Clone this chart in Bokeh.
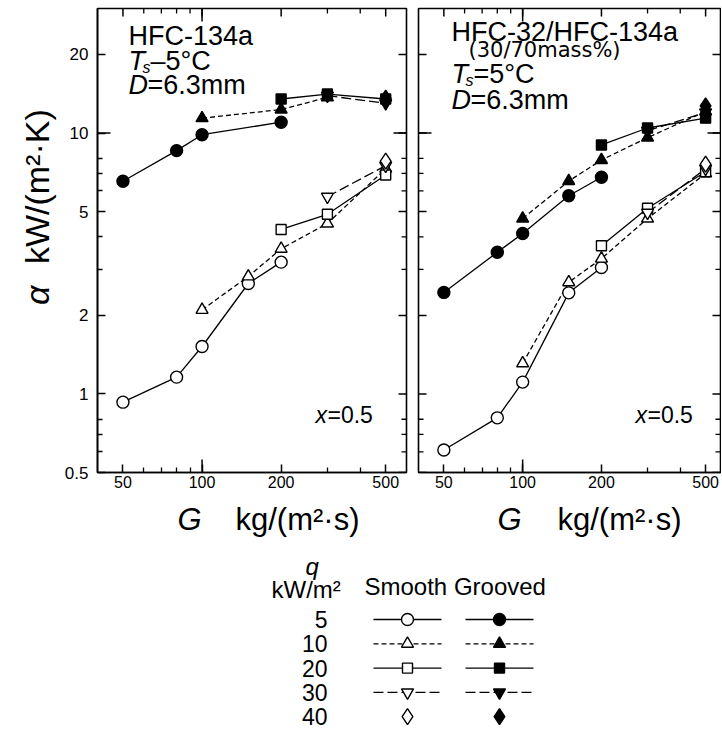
import math
from bokeh.plotting import figure
from bokeh.models import FixedTicker, CustomJSTickFormatter, Label, Range1d
from bokeh.layouts import column, row
from bokeh.embed import file_html
from bokeh.resources import INLINE
from bokeh.core.properties import value

FONT = "Liberation Sans"
WIDE_FONT = "DejaVu Sans"

# ---------------- data ----------------
q_levels = [5, 10, 20, 30, 40]
q_markers = ["circle", "triangle", "square", "inverted_triangle", "diamond"]
q_dashes = ["solid", "5 3", "solid", "10 4", "solid"]

x_ticks = [50, 100, 200, 500]
x_minor = [60, 70, 80, 90, 300, 400]
y_ticks = [0.5, 1, 2, 5, 10, 20]
y_minor = [0.6, 0.7, 0.8, 3, 4, 6, 7, 8]
x_decade, y_decade = 100, 10

# HFC-134a, smooth tube (open symbols)
r134_smooth_G = [[50, 80, 100, 150, 200], [100, 150, 200, 300, 500], [200, 300, 500], [300, 500], [500]]
r134_smooth_a = [[0.93, 1.16, 1.52, 2.65, 3.2], [2.1, 2.82, 3.6, 4.5, 7.3], [4.27, 4.88, 6.9], [5.7, 7.5], [7.8]]
# HFC-134a, grooved tube (filled symbols)
r134_groove_G = [[50, 80, 100, 200], [100, 200, 300], [200, 300, 500], [300, 500], [500]]
r134_groove_a = [[6.53, 8.56, 9.85, 11.0], [11.4, 12.3, 13.7], [13.5, 14.1, 13.5], [13.9, 13.0], [13.6]]

# HFC-32/HFC-134a (30/70 mass%), smooth tube
mix_smooth_G = [[50, 80, 100, 150, 200], [100, 150, 200, 300, 500], [200, 300, 500], [300, 500], [500]]
mix_smooth_a = [[0.61, 0.81, 1.11, 2.44, 3.05], [1.31, 2.68, 3.3, 4.7, 7.0], [3.7, 5.15, 7.1], [4.95, 7.3], [7.6]]
# HFC-32/HFC-134a (30/70 mass%), grooved tube
mix_groove_G = [[50, 80, 100, 150, 200], [100, 150, 200, 300, 500], [200, 300, 500], [300, 500], [500]]
mix_groove_a = [[2.45, 3.49, 4.12, 5.75, 6.77], [4.7, 6.54, 7.88, 9.6, 12.1], [9.0, 10.45, 11.4], [10.2, 12.0], [12.7]]

X_START, Y_START, Y_END = 40, 0.5, 30
MARKER_SIZE = {"circle": 12, "triangle": 12, "square": 10, "inverted_triangle": 12, "diamond": 16}

fmt = CustomJSTickFormatter(code="return tick.toString();")


def style_axis(ax, ticks, minor, font_size, standoff):
    ax.ticker = FixedTicker(ticks=ticks, minor_ticks=minor)
    ax.formatter = fmt
    ax.major_tick_in = 8
    ax.major_tick_out = 0
    ax.minor_tick_in = 5
    ax.minor_tick_out = 0
    ax.major_tick_line_width = 1.5
    ax.minor_tick_line_width = 1.3
    ax.axis_line_width = 1.6
    ax.axis_line_color = "black"
    ax.major_tick_line_color = "black"
    ax.minor_tick_line_color = "black"
    ax.axis_label = None
    ax.major_label_text_font = FONT
    ax.major_label_text_font_size = font_size
    ax.major_label_text_color = "black"
    ax.major_label_standoff = standoff


def add_label(p, x, y, text, size, style="normal", font=FONT):
    p.add_layout(Label(x=x, y=y, x_units="screen", y_units="screen", text=text,
                       text_font=font, text_font_size=size, text_font_style=style,
                       text_align="left", text_baseline="middle", text_color="black"))


def vtick(p, xs, y, size, width):
    p.scatter(xs, [y] * len(xs), marker="dash", size=size, angle=math.pi / 2,
              line_color="black", line_width=width)


def htick(p, x, ys, size, width):
    p.scatter([x] * len(ys), ys, marker="dash", size=size, line_color="black", line_width=width)


def edge_ticks(p, x_end, left_edge):
    # inward ticks on the frame edges (half of each dash is clipped away by the frame)
    vtick(p, x_ticks, Y_END, 16, 1.5)
    vtick(p, x_minor, Y_END, 10, 1.3)
    vtick(p, [x_decade], Y_END, 26, 1.5)
    vtick(p, [x_decade], Y_START, 26, 1.5)
    xs = [x_end] + ([X_START] if left_edge else [])
    for xe in xs:
        htick(p, xe, y_ticks, 16, 1.5)
        htick(p, xe, y_minor, 10, 1.3)
    for xe in [x_end, X_START]:
        htick(p, xe, [y_decade], 26, 1.5)


def make_panel(x_end, frame_w, border_left, border_right, is_left):
    p = figure(x_axis_type="log", y_axis_type="log",
               x_range=Range1d(X_START, x_end), y_range=Range1d(Y_START, Y_END),
               frame_width=frame_w, frame_height=464,
               min_border_left=border_left, min_border_right=border_right,
               min_border_top=8, min_border_bottom=28,
               y_axis_location="left" if is_left else None,
               output_backend="svg", toolbar_location=None,
               background_fill_color="white", border_fill_color="white",
               outline_line_color="black", outline_line_width=1.6)
    p.grid.visible = False
    style_axis(p.xaxis[0], x_ticks, x_minor, "16px", 3)
    if is_left:
        style_axis(p.yaxis[0], y_ticks, y_minor, "17px", 9)
    edge_ticks(p, x_end, not is_left)
    return p


def draw_series(p, Gs, As, filled):
    for i, (G, A) in enumerate(zip(Gs, As)):
        if len(G) > 1:
            p.line(G, A, line_color="black", line_width=1.3, line_dash=q_dashes[i])
    for i, (G, A) in enumerate(zip(Gs, As)):
        m = q_markers[i]
        p.scatter(G, A, marker=m, size=MARKER_SIZE[m],
                  fill_color="black" if filled else "white",
                  line_color="black", line_width=1.4)


def blank_fig(w, h, y_down=False):
    f = figure(width=w, height=h, x_range=Range1d(0, w),
               y_range=Range1d(h, 0) if y_down else Range1d(0, h),
               min_border=0, output_backend="svg", toolbar_location=None,
               x_axis_location=None, y_axis_location=None,
               outline_line_color=None, background_fill_color="white", border_fill_color="white")
    f.grid.visible = False
    return f


def put_text(f, x, y, s, size, style="normal", align="left", angle=0.0):
    f.text(x=[x], y=[y], text=[s], text_font=value(FONT), text_font_size=size,
           text_font_style=style, text_align=align, text_baseline="middle",
           angle=angle, text_color="black")


# ---------------- left panel ----------------
p1 = make_panel(600, 309, 39, 6, True)
draw_series(p1, r134_smooth_G, r134_smooth_a, False)
draw_series(p1, r134_groove_G, r134_groove_a, True)

add_label(p1, 31, 437, "HFC-134a", "27px")
add_label(p1, 31, 412, "T", "27px", "italic")
add_label(p1, 45, 405, "s", "16px", "italic")
add_label(p1, 53, 412, "\u20135\u00b0C", "27px")
add_label(p1, 31, 388, "D", "27px", "italic")
add_label(p1, 50, 388, "=6.3mm", "27px")
add_label(p1, 218, 58, "x", "23px", "italic")
add_label(p1, 230, 58, "=0.5", "23px")

# ---------------- right panel ----------------
p2 = make_panel(570, 302, 6, 1, False)
draw_series(p2, mix_smooth_G, mix_smooth_a, False)
draw_series(p2, mix_groove_G, mix_groove_a, True)

add_label(p2, 33, 441, "HFC-32/HFC-134a", "27px")
add_label(p2, 50, 423, "(30/70mass%)", "21px", font=WIDE_FONT)
add_label(p2, 33, 399, "T", "27px", "italic")
add_label(p2, 47, 392, "s", "16px", "italic")
add_label(p2, 55, 399, "=5\u00b0C", "27px")
add_label(p2, 33, 373, "D", "27px", "italic")
add_label(p2, 52, 373, "=6.3mm", "27px")
add_label(p2, 217, 58, "x", "23px", "italic")
add_label(p2, 229, 58, "=0.5", "23px")

# ---------------- y-axis title (left strip) ----------------
pt = blank_fig(58, 500)
put_text(pt, 36, 500 - 309, "\u03b1", "34px", "italic", align="center", angle=math.pi / 2)
put_text(pt, 36, 500 - 192, "kW/(m\u00b2\u00b7K)", "34px", align="center", angle=math.pi / 2)

# ---------------- x-axis titles (strip below) ----------------
W = 58 + 354 + 309
px = blank_fig(W, 45)
for gx, ux in [(177, 235), (497, 557)]:
    put_text(px, gx, 26, "G", "31px", "italic")
    put_text(px, ux, 26, "kg/(m\u00b2\u00b7s)", "31px")

# ---------------- legend ----------------
LH = 186
pl = blank_fig(W, LH, y_down=True)
row_y = [74 + 24.3 * i for i in range(len(q_levels))]
pl.text(x=[327] * len(q_levels), y=row_y, text=[str(q) for q in q_levels],
        text_font=value(FONT), text_font_size="23px", text_align="right",
        text_baseline="middle", text_color="black")
for i, yy in enumerate(row_y):
    m = q_markers[i]
    for (x0, x1, filled) in [(373, 441, False), (465, 533, True)]:
        if q_levels[i] != 40:
            pl.line([x0, x1], [yy, yy], line_color="black", line_width=1.3, line_dash=q_dashes[i])
        pl.scatter([(x0 + x1) / 2], [yy], marker=m, size=MARKER_SIZE[m],
                   fill_color="black" if filled else "white", line_color="black", line_width=1.4)

put_text(pl, 305, 21, "q", "24px", "italic")
put_text(pl, 271, 44, "kW/m\u00b2", "24px")
put_text(pl, 364, 41, "Smooth Grooved", "24px")

layout = column(row(pt, p1, p2), px, pl)
open("out.html", "w").write(file_html(layout, INLINE))
